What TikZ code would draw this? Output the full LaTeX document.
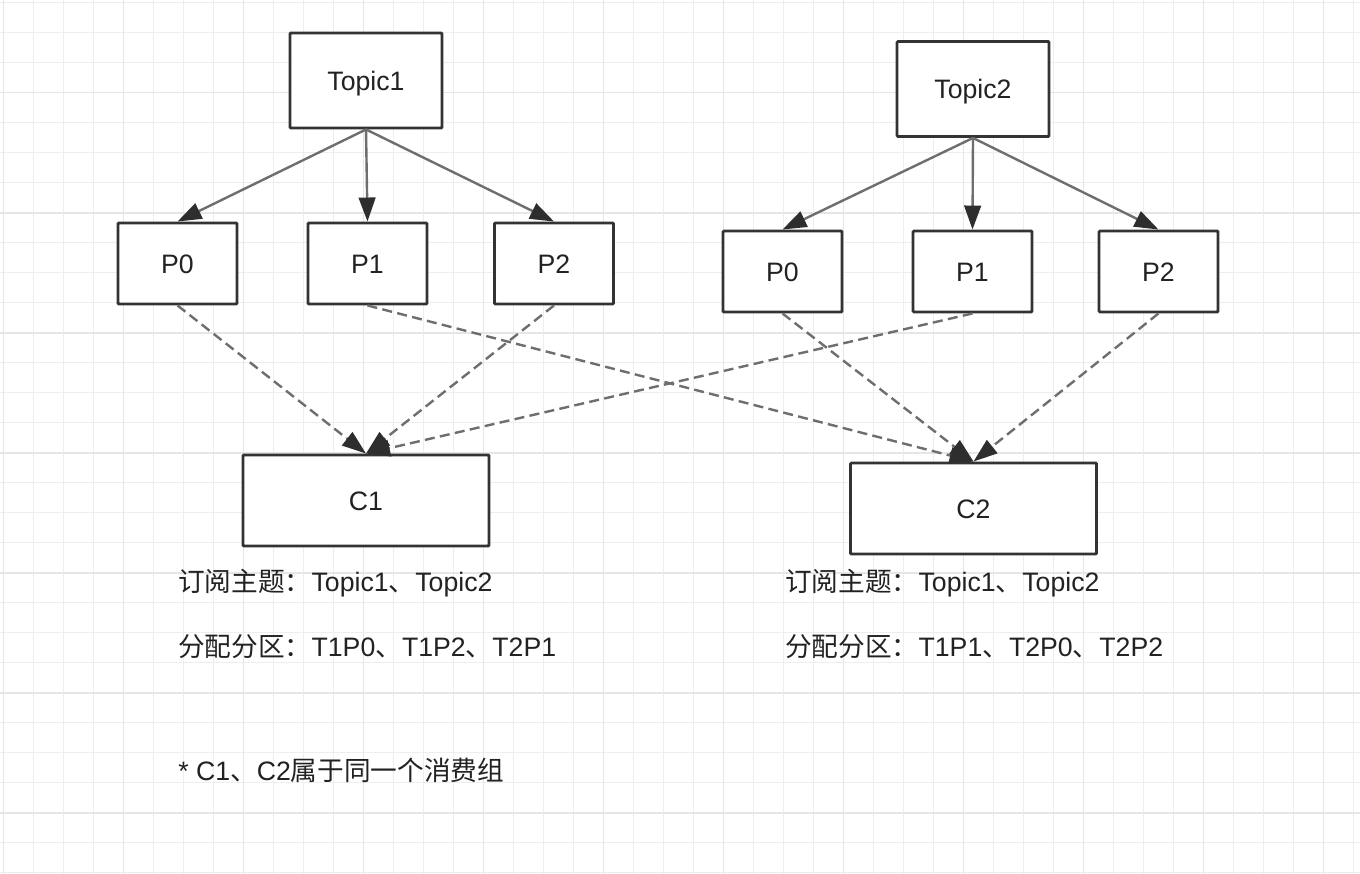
\documentclass[tikz,border=0pt]{standalone}
\usepackage{fontspec}
\setmainfont{Liberation Sans}
\newfontfamily\cjk{Noto Sans CJK SC}
\usetikzlibrary{arrows.meta}
\definecolor{gridminor}{HTML}{EEEEEE}
\definecolor{gridmajor}{HTML}{E6E6E6}
\definecolor{boxline}{HTML}{333333}
\definecolor{edgeline}{HTML}{6E6E6E}
\definecolor{headcol}{HTML}{2E2E2E}
\definecolor{txt}{HTML}{222222}
\begin{document}
\begin{tikzpicture}[x=0.75pt,y=-0.75pt,
  minorgrid/.style={gridminor,line width=0.8pt},
  majorgrid/.style={gridmajor,line width=1.2pt},
  box/.style={draw=boxline,line width=2.2pt,fill=white,rounded corners=0.8pt,inner sep=0pt,
    text=txt,font=\fontsize{20}{24}\selectfont,text height=14.3pt,text depth=0pt},
  topicbox/.style={box,minimum width=114pt,minimum height=71.25pt},
  partbox/.style={box,minimum width=89.25pt,minimum height=60.75pt},
  consbox/.style={box,minimum width=184.5pt,minimum height=68.25pt},
  solidarrow/.style={edgeline,line width=1.8pt,
    -{Triangle[length=18pt,width=12.5pt,color=headcol]}},
  dasharrow/.style={edgeline,line width=1.8pt,dash pattern=on 7.5pt off 4pt,
    -{Triangle[length=18pt,width=12.5pt,color=headcol]}},
  label/.style={anchor=west,inner sep=0pt,text=txt,font=\fontsize{20}{24}\selectfont}
]
\useasboundingbox (0,0) rectangle (1360,874);
\fill[white] (0,0) rectangle (1360,874);
% grid
\foreach \x in {3.3,33.3,...,1353.3} \draw[minorgrid] (\x,0) -- (\x,874);
\foreach \y in {2.7,32.7,...,872.7} \draw[minorgrid] (0,\y) -- (1360,\y);
\foreach \x in {3.3,123.3,...,1323.3} \draw[majorgrid] (\x,0) -- (\x,874);
\foreach \y in {92.7,212.7,...,812.7} \draw[majorgrid] (0,\y) -- (1360,\y);

% nodes
\node[topicbox] (t1) at (366,80.5) {Topic1};
\node[topicbox] (t2) at (973,89) {Topic2};
\node[partbox] (t1p0) at (177.5,263.5) {P0};
\node[partbox] (t1p1) at (367.5,263.5) {P1};
\node[partbox] (t1p2) at (554,263.5) {P2};
\node[partbox] (t2p0) at (782.5,271.5) {P0};
\node[partbox] (t2p1) at (972.5,271.5) {P1};
\node[partbox] (t2p2) at (1158.5,271.5) {P2};
\node[consbox] (c1) at (366,500.5) {C1};
\node[consbox] (c2) at (973.5,508.5) {C2};

% solid edges
\draw[solidarrow] (t1.south) -- (t1p0.north);
\draw[solidarrow] (t1.south) -- (t1p1.north);
\draw[solidarrow] (t1.south) -- (t1p2.north);
\draw[solidarrow] (t2.south) -- (t2p0.north);
\draw[solidarrow] (t2.south) -- (t2p1.north);
\draw[solidarrow] (t2.south) -- (t2p2.north);

% dashed edges
\draw[dasharrow] (t1p0.south) -- (c1.north);
\draw[dasharrow] (t1p2.south) -- (c1.north);
\draw[dasharrow] (t2p1.south) -- (c1.north);
\draw[dasharrow] (t1p1.south) -- (c2.north);
\draw[dasharrow] (t2p0.south) -- (c2.north);
\draw[dasharrow] (t2p2.south) -- (c2.north);

% labels
\node[label] (l1a) at (178,583) {{\cjk 订阅主题：}Topic1{\cjk 、}Topic2};
\node[label] (l1b) at (178,647) {{\cjk 分配分区：}T1P0{\cjk 、}T1P2{\cjk 、}T2P1};
\node[label] (l2a) at (785,583) {{\cjk 订阅主题：}Topic1{\cjk 、}Topic2};
\node[label] (l2b) at (785,647) {{\cjk 分配分区：}T1P1{\cjk 、}T2P0{\cjk 、}T2P2};
\node[label] (note) at (178,770) {* C1{\cjk 、}C2{\cjk 属于同一个消费组}};
\end{tikzpicture}
\end{document}
